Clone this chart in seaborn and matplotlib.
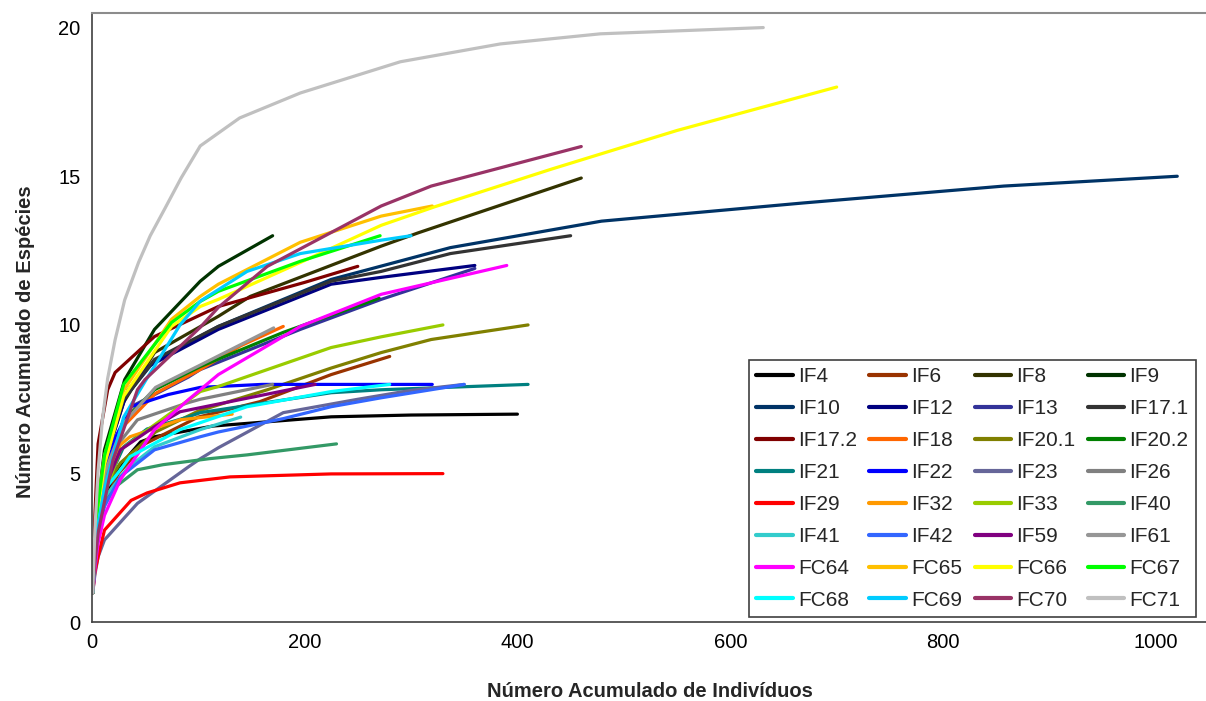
import matplotlib
matplotlib.use("Agg")
import matplotlib.pyplot as plt
import seaborn as sns
import pandas as pd

# ---- data ----
series_names = ["IF4", "IF6", "IF8", "IF9", "IF10", "IF12", "IF13", "IF17.1",
                "IF17.2", "IF18", "IF20.1", "IF20.2", "IF21", "IF22", "IF23", "IF26",
                "IF29", "IF32", "IF33", "IF40", "IF41", "IF42", "IF59", "IF61",
                "FC64", "FC65", "FC66", "FC67", "FC68", "FC69", "FC70", "FC71"]

series_colors = ["#000000", "#993300", "#333300", "#003300", "#003366", "#000080", "#333399", "#333333",
                 "#800000", "#FF6600", "#808000", "#008000", "#008080", "#0000FF", "#666699", "#808080",
                 "#FF0000", "#FF9900", "#99CC00", "#339966", "#33CCCC", "#3366FF", "#800080", "#969696",
                 "#FF00FF", "#FFC000", "#FFFF00", "#00FF00", "#00FFFF", "#00CCFF", "#993366", "#C0C0C0"]

IF4_x = [1, 3, 6, 12, 25, 46, 59, 114, 225, 300, 400]
IF4_y = [1, 2.2, 3.2, 4.2, 5.2, 6.07, 6.24, 6.6, 6.91, 6.97, 7.0]
IF6_x = [1, 3, 6, 12, 25, 50, 100, 158, 225, 280]
IF6_y = [1, 2.1, 3.0, 4.0, 5.0, 6.0, 6.9, 7.42, 8.33, 8.94]
IF8_x = [1, 3, 6, 12, 30, 59, 119, 149, 272, 307, 460]
IF8_y = [1, 2.5, 3.8, 5.4, 7.4, 9.07, 10.29, 10.96, 12.65, 13.1, 14.94]
IF9_x = [1, 3, 6, 12, 31, 59, 102, 119, 170]
IF9_y = [1, 2.6, 4.0, 5.8, 8.16, 9.85, 11.47, 11.97, 13.0]
IF10_x = [1, 3, 6, 12, 30, 59, 119, 225, 337, 479, 668, 857, 1020]
IF10_y = [1, 2.5, 3.8, 5.4, 7.5, 8.8, 9.95, 11.53, 12.6, 13.49, 14.1, 14.67, 15.0]
IF12_x = [1, 3, 6, 12, 34, 53, 119, 225, 272, 360]
IF12_y = [1, 2.5, 3.9, 5.4, 7.82, 8.6, 9.85, 11.37, 11.6, 12.0]
IF13_x = [1, 3, 6, 12, 37, 91, 102, 196, 272, 360]
IF13_y = [1, 2.4, 3.7, 5.2, 7.25, 8.25, 8.5, 9.85, 10.86, 11.9]
IF17_1_x = [1, 3, 6, 12, 30, 59, 119, 225, 272, 337, 450]
IF17_1_y = [1, 2.5, 3.9, 5.5, 7.5, 8.84, 9.95, 11.47, 11.8, 12.4, 13.0]
IF17_2_x = [1, 3, 6, 15, 22, 59, 119, 200, 250]
IF17_2_y = [1, 3.6, 6.0, 7.82, 8.4, 9.61, 10.62, 11.43, 11.97]
IF18_x = [1, 3, 6, 12, 30, 60, 102, 140, 180]
IF18_y = [1, 2.2, 3.4, 4.8, 6.6, 7.7, 8.5, 9.3, 9.95]
IF20_1_x = [1, 3, 6, 15, 27, 60, 100, 165, 225, 272, 319, 410]
IF20_1_y = [1, 2.0, 3.0, 4.7, 5.36, 6.4, 7.1, 7.82, 8.55, 9.07, 9.51, 10.0]
IF20_2_x = [1, 3, 6, 12, 30, 59, 91, 102, 180, 270]
IF20_2_y = [1, 2.4, 3.6, 5.0, 6.8, 7.82, 8.4, 8.6, 9.75, 10.9]
IF21_x = [1, 3, 6, 12, 30, 52, 91, 102, 225, 272, 410]
IF21_y = [1, 2.2, 3.3, 4.5, 5.9, 6.5, 6.91, 7.05, 7.72, 7.82, 8.0]
IF22_x = [1, 3, 6, 12, 22, 37, 72, 102, 160, 320]
IF22_y = [1, 2.3, 3.5, 4.9, 6.2, 7.25, 7.66, 7.9, 8.0, 8.0]
IF23_x = [1, 3, 6, 12, 43, 91, 102, 119, 180, 250, 300, 350]
IF23_y = [1, 1.6, 2.2, 2.77, 4.0, 5.23, 5.5, 5.87, 7.05, 7.5, 7.8, 8.0]
IF26_x = [1, 3, 6, 12, 25, 43, 91, 102, 170]
IF26_y = [1, 2.3, 3.5, 4.8, 6.0, 6.81, 7.39, 7.5, 8.0]
IF29_x = [1, 3, 6, 12, 37, 52, 83, 130, 225, 330]
IF29_y = [1, 1.7, 2.2, 3.1, 4.1, 4.35, 4.69, 4.89, 4.99, 5.0]
IF32_x = [1, 3, 6, 12, 27, 36, 83, 132]
IF32_y = [1, 2.2, 3.3, 4.6, 5.97, 6.24, 6.81, 7.0]
IF33_x = [1, 3, 6, 12, 27, 59, 102, 119, 225, 272, 330]
IF33_y = [1, 2.0, 3.0, 4.3, 5.8, 6.64, 7.76, 7.93, 9.24, 9.6, 10.0]
IF40_x = [1, 3, 6, 15, 43, 67, 110, 146, 230]
IF40_y = [1, 2.2, 3.2, 4.35, 5.13, 5.3, 5.5, 5.63, 6.0]
IF41_x = [1, 3, 6, 12, 34, 59, 102, 140]
IF41_y = [1, 2.1, 3.1, 4.2, 5.2, 5.9, 6.48, 6.9]
IF42_x = [1, 3, 6, 12, 27, 59, 102, 119, 180, 225, 272, 350]
IF42_y = [1, 2.0, 2.9, 3.9, 4.9, 5.8, 6.24, 6.4, 6.85, 7.25, 7.55, 8.0]
IF59_x = [1, 3, 6, 12, 27, 59, 83, 177, 210]
IF59_y = [1, 2.2, 3.2, 4.5, 5.8, 6.58, 7.08, 7.76, 8.0]
IF61_x = [1, 3, 6, 12, 30, 60, 102, 171]
IF61_y = [1, 2.3, 3.5, 5.0, 6.7, 7.9, 8.65, 9.9]
FC64_x = [1, 3, 6, 12, 27, 59, 91, 119, 196, 272, 390]
FC64_y = [1, 1.8, 2.66, 3.6, 4.8, 6.48, 7.49, 8.33, 9.95, 11.03, 12.0]
FC65_x = [1, 3, 6, 12, 30, 75, 102, 119, 196, 272, 320]
FC65_y = [1, 2.6, 4.0, 5.6, 7.8, 10.19, 10.96, 11.37, 12.78, 13.66, 14.0]
FC66_x = [1, 3, 6, 12, 30, 75, 102, 119, 196, 272, 322, 432, 550, 700]
FC66_y = [1, 2.5, 3.8, 5.3, 7.6, 9.95, 10.62, 10.86, 12.1, 13.35, 13.97, 15.24, 16.54, 18.0]
FC67_x = [1, 3, 6, 12, 30, 75, 102, 119, 196, 271]
FC67_y = [1, 2.6, 4.0, 5.6, 8.0, 10.08, 10.79, 11.13, 12.14, 13.0]
FC68_x = [1, 3, 6, 12, 27, 36, 83, 146, 225, 280]
FC68_y = [1, 2.2, 3.3, 4.45, 5.13, 5.57, 6.48, 7.25, 7.76, 8.0]
FC69_x = [1, 3, 6, 12, 30, 51, 83, 102, 146, 196, 272, 300]
FC69_y = [1, 2.1, 3.2, 4.5, 6.9, 8.15, 10.0, 10.8, 11.8, 12.4, 12.85, 13.0]
FC70_x = [1, 3, 6, 20, 43, 50, 102, 119, 165, 272, 319, 460]
FC70_y = [1, 2.0, 3.0, 5.46, 7.82, 8.16, 9.92, 10.59, 11.97, 14.0, 14.67, 16.0]
FC71_x = [1, 3, 6, 10, 15, 22, 31, 44, 55, 69, 84, 102, 139, 196, 290, 384, 478, 631]
FC71_y = [1, 3.1, 5.1, 6.8, 8.2, 9.5, 10.84, 12.1, 13.0, 13.93, 14.94, 16.02, 16.96, 17.8, 18.85, 19.45, 19.79, 20.0]

series_x = [IF4_x, IF6_x, IF8_x, IF9_x, IF10_x, IF12_x, IF13_x, IF17_1_x,
            IF17_2_x, IF18_x, IF20_1_x, IF20_2_x, IF21_x, IF22_x, IF23_x, IF26_x,
            IF29_x, IF32_x, IF33_x, IF40_x, IF41_x, IF42_x, IF59_x, IF61_x,
            FC64_x, FC65_x, FC66_x, FC67_x, FC68_x, FC69_x, FC70_x, FC71_x]
series_y = [IF4_y, IF6_y, IF8_y, IF9_y, IF10_y, IF12_y, IF13_y, IF17_1_y,
            IF17_2_y, IF18_y, IF20_1_y, IF20_2_y, IF21_y, IF22_y, IF23_y, IF26_y,
            IF29_y, IF32_y, IF33_y, IF40_y, IF41_y, IF42_y, IF59_y, IF61_y,
            FC64_y, FC65_y, FC66_y, FC67_y, FC68_y, FC69_y, FC70_y, FC71_y]

x_ticks = [0, 200, 400, 600, 800, 1000]
y_ticks = [0, 5, 10, 15, 20]

# ---- build long table ----
rows = []
for name, xs, ys in zip(series_names, series_x, series_y):
    for i, (xv, yv) in enumerate(zip(xs, ys)):
        rows.append({"Série": name, "x": xv, "y": yv, "order": i})
df = pd.DataFrame(rows)

sns.set_style("white")
plt.rcParams["font.family"] = ["Liberation Sans", "DejaVu Sans"]

fig = plt.figure(figsize=(12.06, 7.01), dpi=100)
ax = fig.add_axes([91.7 / 1206, (701 - 622.3) / 701, (1206 - 91.7) / 1206, (622.3 - 13) / 701])

palette = dict(zip(series_names, series_colors))
sns.lineplot(data=df, x="x", y="y", hue="Série", hue_order=series_names,
             palette=palette, sort=False, estimator=None, units="Série",
             linewidth=2.3, ax=ax, legend=True)

ax.set_xlim(0, 1047)
ax.set_ylim(0, 20.49)
ax.set_xticks(x_ticks)
ax.set_yticks(y_ticks)
ax.tick_params(axis="both", direction="out", length=4, width=1, color="#404040",
               labelsize=14.5, labelcolor="black", pad=4)

for side in ["left", "bottom"]:
    ax.spines[side].set_color("#404040")
    ax.spines[side].set_linewidth(1.2)
ax.spines["top"].set_color("#8c8c8c")
ax.spines["top"].set_linewidth(1.5)
ax.spines["right"].set_visible(False)

ax.set_xlabel("Número Acumulado de Indivíduos", fontsize=14.5, fontweight="bold")
ax.set_ylabel("Número Acumulado de Espécies", fontsize=14.5, fontweight="bold")
ax.xaxis.set_label_coords(0.5013, -0.098)
ax.yaxis.set_label_coords(-0.051, 0.461)

# legend laid out row by row (4 columns, 8 rows)
handles, labels = ax.get_legend_handles_labels()
lookup = dict(zip(labels, handles))
ncol, nrow = 4, 8
ordered = [series_names[r * ncol + c] for c in range(ncol) for r in range(nrow)]
leg = ax.legend([lookup[n] for n in ordered], ordered, ncol=ncol, loc="lower right",
                bbox_to_anchor=(1196 / 1206, 1 - 617 / 701), bbox_transform=fig.transFigure,
                borderaxespad=0, fontsize=15, handlelength=1.75, handletextpad=0.25,
                columnspacing=0.6, labelspacing=0.62, borderpad=0.35, frameon=True,
                fancybox=False, framealpha=1, edgecolor="#404040")
leg.get_frame().set_linewidth(1.2)
for h in leg.get_lines():
    h.set_linewidth(3)

fig.savefig("out.png", dpi=100)
